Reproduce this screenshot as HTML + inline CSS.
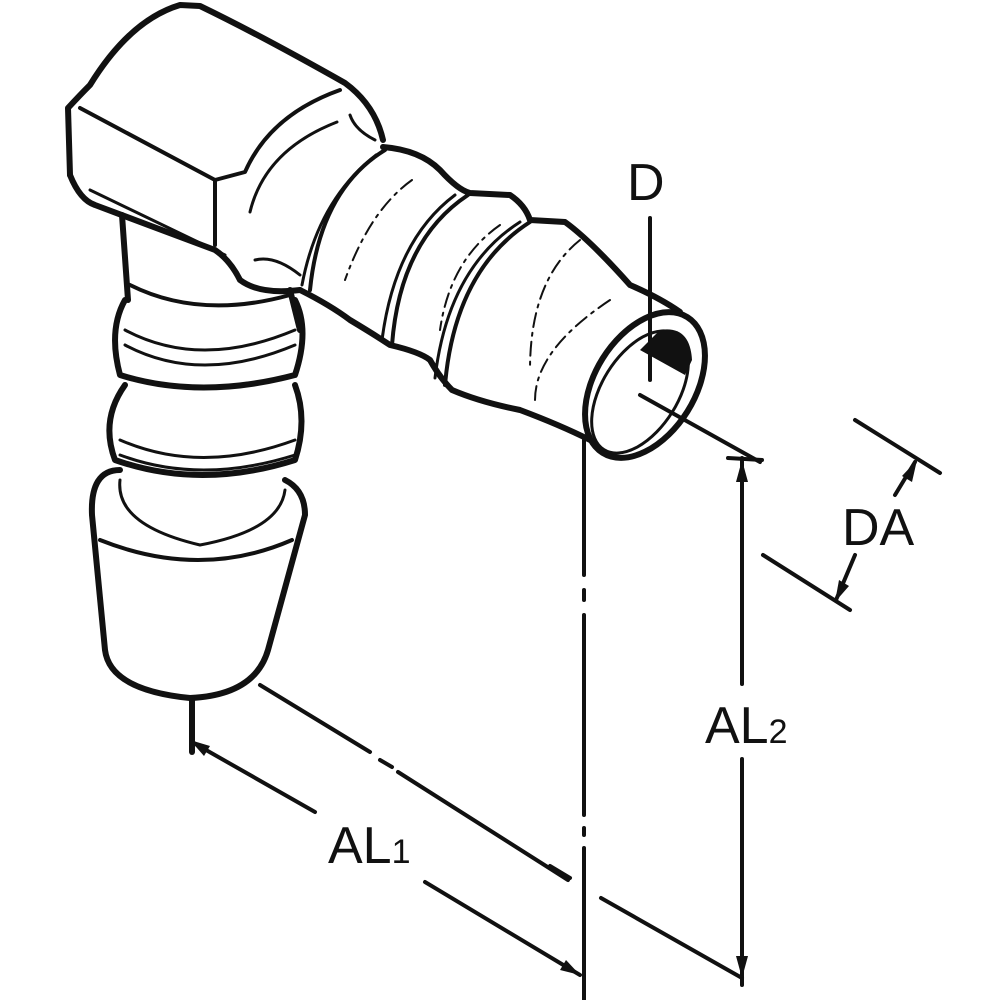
<!DOCTYPE html>
<html><head><meta charset="utf-8"><style>
html,body{margin:0;padding:0;background:#fff}
svg{display:block}
text{font-family:"Liberation Sans",Arial,sans-serif;fill:#111}
</style></head><body>
<svg width="1000" height="1000" viewBox="0 0 1000 1000" xmlns="http://www.w3.org/2000/svg">
<g fill="none" stroke="#111" stroke-width="6" stroke-linejoin="round" stroke-linecap="round">
<path d="M70,175 L68,108 Q80,95 90,85 Q130,20 180,5 L200,6 Q260,35 345,83 Q375,105 383,140"/>
<path d="M80,108 L215,180 L245,172 Q270,115 340,90" stroke-width="4"/>
<path d="M215,180 L215,245" stroke-width="4"/>
<path d="M70,175 Q80,200 95,205 L215,250 Q230,260 240,280 Q260,295 300,290" />
<path d="M90,190 L225,255" stroke-width="3"/>
<path d="M250,212 Q265,150 337,122" stroke-width="3"/>
<path d="M350,115 Q355,130 375,140" stroke-width="3"/>
<path d="M255,260 Q275,255 300,275" stroke-width="3"/>
<path d="M122,215 Q125,260 128,300"/>
<path d="M130,285 Q200,320 290,295" stroke-width="4"/>
<path d="M290,290 L300,330"/>
<path d="M125,300 Q108,330 120,375 Q200,400 295,375 Q310,330 295,300"/>
<path d="M125,330 Q200,370 295,330" stroke-width="3"/>
<path d="M125,345 Q200,385 295,345" stroke-width="3"/>
<path d="M125,385 Q100,420 115,460 Q200,490 295,460 Q308,420 295,385"/>
<path d="M120,440 Q200,475 295,440" stroke-width="3"/>
<path d="M120,455 Q200,485 295,455" stroke-width="3"/>
<path d="M120,470 Q90,470 92,515 L105,650 Q110,690 190,698 Q255,695 268,650 L305,515 Q305,490 285,480"/>
<path d="M120,480 Q115,525 200,545 Q280,530 285,490" stroke-width="3"/>
<path d="M100,540 Q200,580 292,540" stroke-width="4"/>
<path d="M192,698 L192,752"/>
<path d="M383,147 Q420,150 440,170 Q458,190 470,193 L510,195 Q525,205 530,220 L565,222 Q590,240 630,285 Q660,298 680,312"/>
<path d="M300,290 Q330,305 350,320 Q375,335 390,345 Q420,352 430,360 Q440,378 452,390 Q480,402 520,410 Q560,425 590,440"/>
<path d="M385,150 Q320,190 310,290" stroke-width="4"/>
<path d="M376,155 Q318,200 302,285" stroke-width="3"/>
<path d="M468,195 Q400,240 392,345" stroke-width="4"/>
<path d="M455,195 Q395,240 382,340" stroke-width="3"/>
<path d="M530,222 Q455,270 445,385" stroke-width="4"/>
<path d="M520,222 Q448,268 435,378" stroke-width="3"/>
<path d="M412,180 Q370,210 345,280" stroke-width="2" stroke-dasharray="14 6 3 6"/>
<path d="M500,225 Q450,260 440,330" stroke-width="2" stroke-dasharray="14 6 3 6"/>
<path d="M580,240 Q530,280 530,370" stroke-width="2" stroke-dasharray="14 6 3 6"/>
<path d="M610,300 Q535,350 535,400" stroke-width="2" stroke-dasharray="14 6 3 6"/>
<ellipse cx="645" cy="385" rx="50" ry="80" transform="rotate(32 645 385)"/>
<ellipse cx="640" cy="392" rx="38" ry="68" transform="rotate(32 640 392)" stroke-width="3"/>
</g>
<path d="M660,330 Q690,325 692,360 L685,375 L640,350 Z" fill="#111"/>
<g fill="none" stroke="#111" stroke-width="4" stroke-linecap="round">
<line x1="632" y1="355" x2="680" y2="380" stroke="#fff" stroke-width="4"/>
<line x1="650" y1="218" x2="650" y2="380"/>
<line x1="640" y1="395" x2="760" y2="462"/>
<path d="M584,440 L584,575 M584,590 L584,600 M584,615 L584,815 M584,828 L584,835 M584,848 L584,1000"/>
<line x1="728" y1="458" x2="762" y2="460"/>
<line x1="742" y1="458" x2="742" y2="684"/>
<line x1="742" y1="759" x2="742" y2="985"/>
<line x1="601" y1="898" x2="742" y2="978"/>
<line x1="550" y1="866" x2="570" y2="878"/>
<line x1="855" y1="420" x2="940" y2="473"/>
<line x1="763" y1="555" x2="850" y2="610"/>
<line x1="915" y1="462" x2="895" y2="495"/>
<line x1="855" y1="555" x2="836" y2="600"/>
<path d="M260,685 L370,752 M380,760 L392,767 M398,772 L568,880"/>
<line x1="192" y1="742" x2="315" y2="812"/>
<line x1="425" y1="882" x2="580" y2="975"/>
</g>
<g fill="#111">
<path d="M742,460 l-6,22 l12,0 z"/>
<path d="M742,978 l-6,-22 l12,0 z"/>
<path d="M917,460 l-5,22 l-10,-6 z"/>
<path d="M835,602 l4,-22 l10,6 z"/>
<path d="M190,740 l20,6 l-6,10 z"/>
<path d="M580,975 l-20,-5 l6,-10 z"/>
</g>
<text x="627" y="200" font-size="52">D</text>
<text x="842" y="545" font-size="52">DA</text>
<text x="705" y="743" font-size="52">AL<tspan font-size="34">2</tspan></text>
<text x="328" y="863" font-size="52">AL<tspan font-size="34">1</tspan></text>
</svg>
</body></html>
